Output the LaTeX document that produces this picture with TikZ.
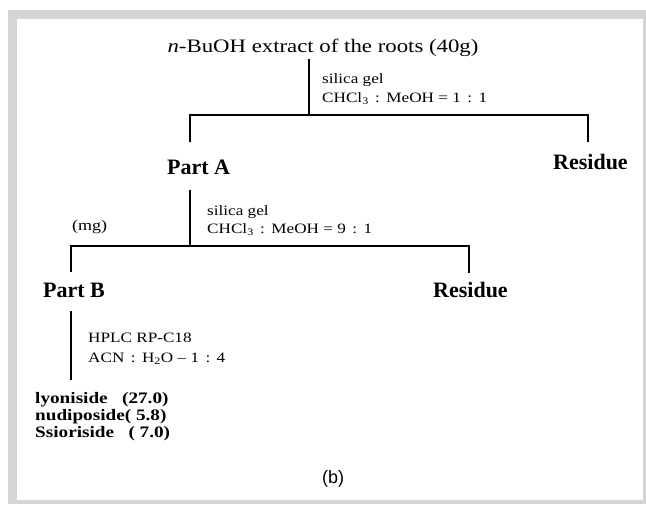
\documentclass[tikz,border=0pt]{standalone}
\usepackage{fontspec}
\setmainfont{Liberation Serif}
\setsansfont{Liberation Sans}
\newfontfamily\widefont[FakeStretch=1.2, Ligatures=TeX]{Liberation Serif}
\definecolor{framegray}{RGB}{213,213,213}
\newcommand{\ratiocolon}{\hspace{0.45em}:\hspace{0.45em}}
\tikzset{
  extract/.style={font=\widefont\fontsize{19}{22}\selectfont, anchor=base, inner xsep=0pt, inner ysep=3pt},
  cond/.style={font=\widefont\fontsize{14.3}{17}\selectfont, anchor=base west, inner sep=0pt},
  fraction/.style={font=\bfseries\fontsize{22}{26}\selectfont, anchor=base west, inner sep=0pt},
  cmpd/.style={font=\widefont\bfseries\fontsize{16}{18}\selectfont, anchor=base west, inner sep=0pt},
  branch/.style={line width=1.3pt}
}

\begin{document}
\begin{tikzpicture}[x=1pt,y=-1pt]
\useasboundingbox (0,0) rectangle (646,504);
\fill[framegray] (8,10) rectangle (646,504);
\fill[white] (17,19) rectangle (643,500);

% first column: n-BuOH extract
\node[extract] (extract) at (323,52) {\textit{n}-BuOH extract of the roots (40g)};
\node[cond] (gel1) at (322,83) {silica gel};
\node[cond] (ratio1) at (322,102) {CHCl\textsubscript{3}\ratiocolon MeOH = 1\ratiocolon 1};
\coordinate (split1) at (309,115);
\coordinate (legA) at (190,142);
\coordinate (legR1) at (588,142);
\draw[branch] (extract.south -| split1) -- (split1);
\draw[branch] (legA) |- (split1) -| (legR1);

\node[fraction] (partA) at (167,174) {Part A};
\node[fraction] (residue1) at (553,169) {Residue};

% second column: Part A
\node[cond] (gel2) at (207,215) {silica gel};
\node[cond] (ratio2) at (207,233) {CHCl\textsubscript{3}\ratiocolon MeOH = 9\ratiocolon 1};
\node[font=\widefont\fontsize{15}{18}\selectfont, anchor=base west, inner sep=0pt] (unit) at (72,230) {(mg)};
\coordinate (split2) at (190,246);
\coordinate (legB) at (71,272);
\coordinate (legR2) at (469,273);
\draw[branch] ([yshift=-16pt]partA.base -| split2) -- (split2);
\draw[branch] (legB) |- (split2) -| (legR2);

\node[fraction] (partB) at (43,297) {Part B};
\node[fraction] (residue2) at (433,297) {Residue};

% HPLC of Part B
\node[cond] (column) at (88,342) {HPLC RP-C18};
\node[cond] (eluent) at (88,362) {ACN\ratiocolon H\textsubscript{2}O -- 1\ratiocolon 4};
\coordinate (hplcEnd) at (71,380);
\draw[branch] ([yshift=-14pt]partB.base -| legB) -- (hplcEnd);

\node[cmpd] (lyo) at (35,403) {lyoniside\ \ \ (27.0)};
\node[cmpd] (nudi) at (35,420) {nudiposide(\ 5.8)};
\node[cmpd] (ssio) at (35,437) {Ssioriside\ \ \ (\ 7.0)};

\node[font=\sffamily\fontsize{18}{20}\selectfont, anchor=base west, inner sep=0pt] (panel) at (322,483) {(b)};
\end{tikzpicture}
\end{document}
